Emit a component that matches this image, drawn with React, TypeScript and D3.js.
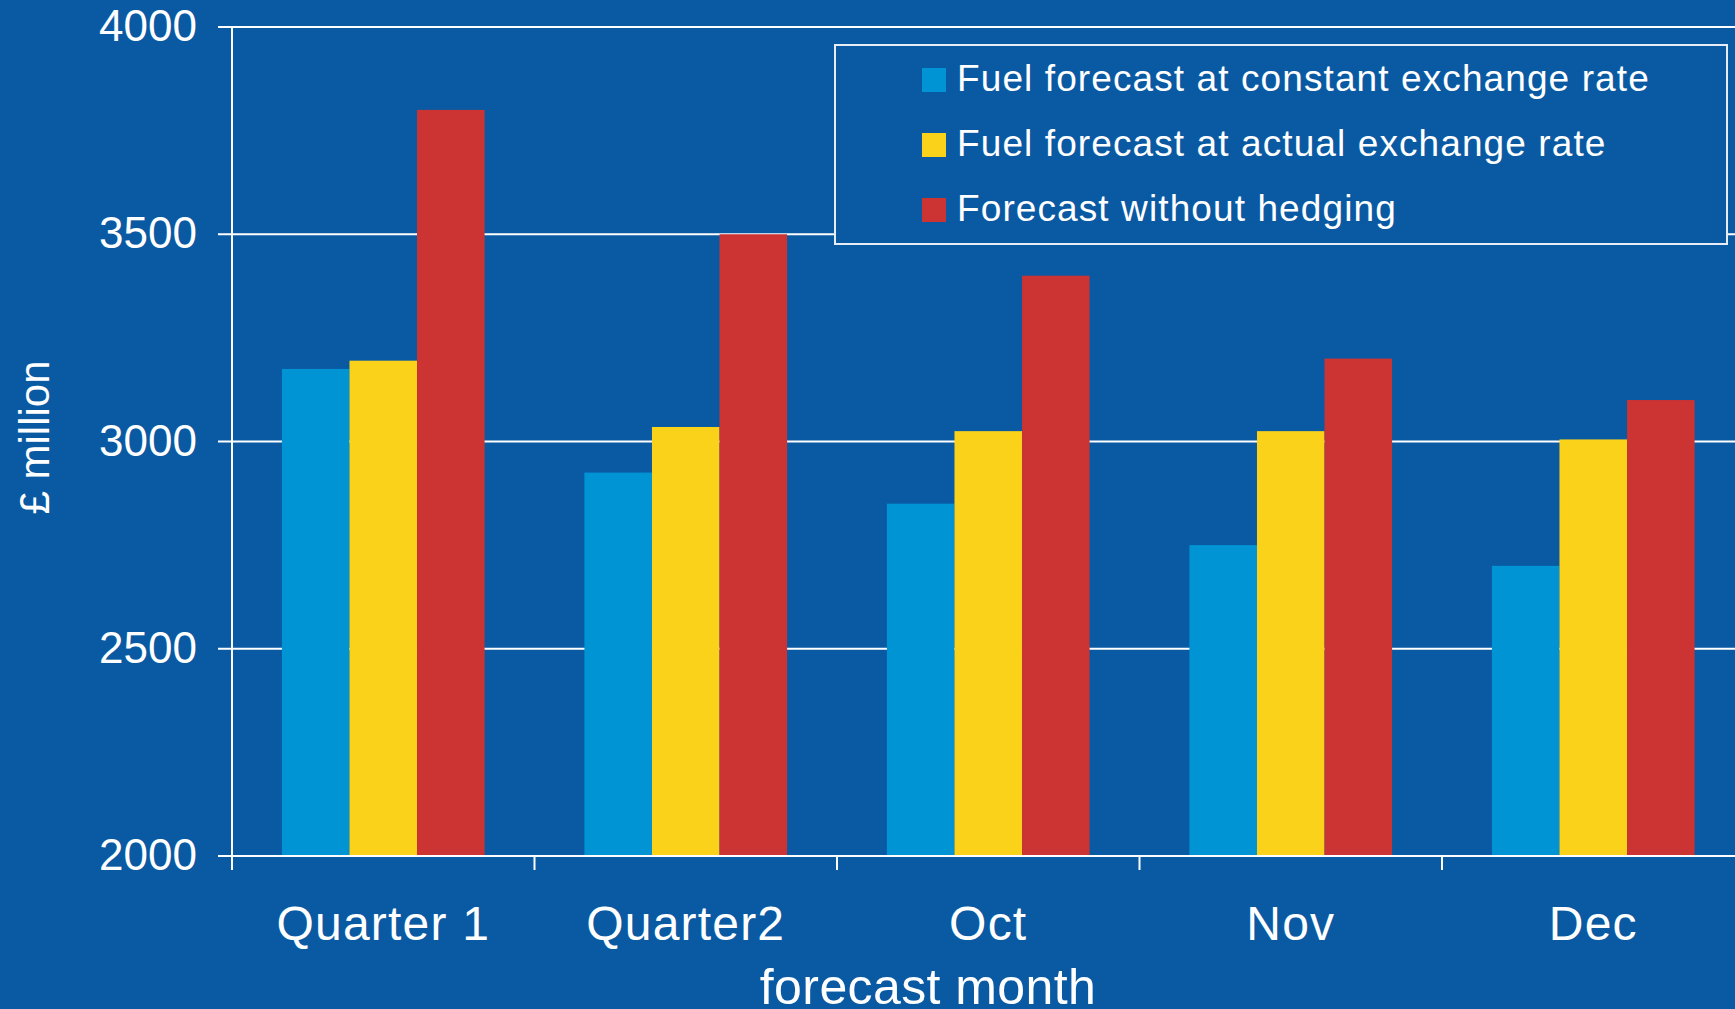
import React from "react";
import * as d3 from "d3";

// Forecast fuel cost by period (£ million)
const categories = ["Quarter 1", "Quarter2", "Oct", "Nov", "Dec"];
const seriesNames = [
  "Fuel forecast at constant exchange rate",
  "Fuel forecast at actual exchange rate",
  "Forecast without hedging",
];
const constantRate = [3175, 2925, 2850, 2750, 2700];
const actualRate = [3195, 3035, 3025, 3025, 3005];
const withoutHedging = [3800, 3500, 3400, 3200, 3100];
const yTicks = [2000, 2500, 3000, 3500, 4000];

const seriesValues = [constantRate, actualRate, withoutHedging];
const seriesColors = ["#0094d5", "#f9d219", "#cc3333"];

const W = 1735;
const H = 1009;
const BG = "#0a5aa3";
const FONT = "'Liberation Sans', Arial, sans-serif";

export default function App() {
  const left = 232;
  const right = 1744.5;
  const top = 27;
  const bottom = 856;

  const x = d3.scaleBand<string>().domain(categories).range([left, right]).paddingInner(0).paddingOuter(0);
  const bw = x.bandwidth();
  const xSub = d3
    .scaleBand<string>()
    .domain(seriesNames)
    .range([bw * 0.165, bw * 0.835])
    .padding(0);
  const y = d3.scaleLinear().domain([2000, 4000]).range([bottom, top]);

  const legendX = 835;
  const legendY = 45;
  const legendW = 892;
  const legendH = 199;
  const rowStep = 65;

  return (
    <svg
      width={W}
      height={H}
      style={{ position: "absolute", left: 0, top: 0, display: "block" }}
      fontFamily={FONT}
    >
      <rect x={0} y={0} width={W} height={H} fill={BG} />

      {/* horizontal gridlines */}
      {yTicks
        .filter((t) => t > 2000)
        .map((t) => (
          <line key={`g${t}`} x1={left} x2={W} y1={y(t)} y2={y(t)} stroke="#ffffff" strokeWidth={2} />
        ))}

      {/* bars */}
      {categories.map((c, ci) => (
        <g key={c} transform={`translate(${x(c)},0)`}>
          {seriesNames.map((s, si) => {
            const v = seriesValues[si][ci];
            return (
              <rect
                key={s}
                x={xSub(s)}
                y={y(v)}
                width={xSub.bandwidth()}
                height={y(2000) - y(v)}
                fill={seriesColors[si]}
              />
            );
          })}
        </g>
      ))}

      {/* y axis */}
      <line x1={left} x2={left} y1={top} y2={bottom + 14} stroke="#ffffff" strokeWidth={2} />
      {yTicks.map((t) => (
        <g key={`y${t}`}>
          <line x1={left - 14} x2={left} y1={y(t)} y2={y(t)} stroke="#ffffff" strokeWidth={2} />
          <text x={197} y={y(t) + 14} textAnchor="end" fontSize={44} fill="#ffffff">
            {t}
          </text>
        </g>
      ))}

      {/* x axis */}
      <line x1={left} x2={W} y1={bottom} y2={bottom} stroke="#ffffff" strokeWidth={2} />
      {categories.map((c) => (
        <g key={`x${c}`}>
          <line x1={x(c)} x2={x(c)} y1={bottom} y2={bottom + 14} stroke="#ffffff" strokeWidth={2} />
          <text
            x={(x(c) as number) + bw / 2}
            y={940}
            textAnchor="middle"
            fontSize={48}
            fill="#ffffff"
            letterSpacing={1.2}
          >
            {c}
          </text>
        </g>
      ))}

      {/* axis titles */}
      <text x={928} y={1004} textAnchor="middle" fontSize={50} fill="#ffffff" letterSpacing={0.4}>
        forecast month
      </text>
      <text
        transform={`translate(49,437.5) rotate(-90)`}
        textAnchor="middle"
        fontSize={42}
        fill="#ffffff"
      >
        £ million
      </text>

      {/* legend */}
      <rect
        x={legendX}
        y={legendY}
        width={legendW}
        height={legendH}
        fill={BG}
        stroke="#e6edf6"
        strokeWidth={2}
      />
      {seriesNames.map((s, i) => (
        <g key={`l${s}`}>
          <rect x={922} y={68 + i * rowStep} width={24} height={24} fill={seriesColors[i]} />
          <text x={957} y={91 + i * rowStep} fontSize={37} fill="#ffffff" letterSpacing={1.1}>
            {s}
          </text>
        </g>
      ))}
    </svg>
  );
}
